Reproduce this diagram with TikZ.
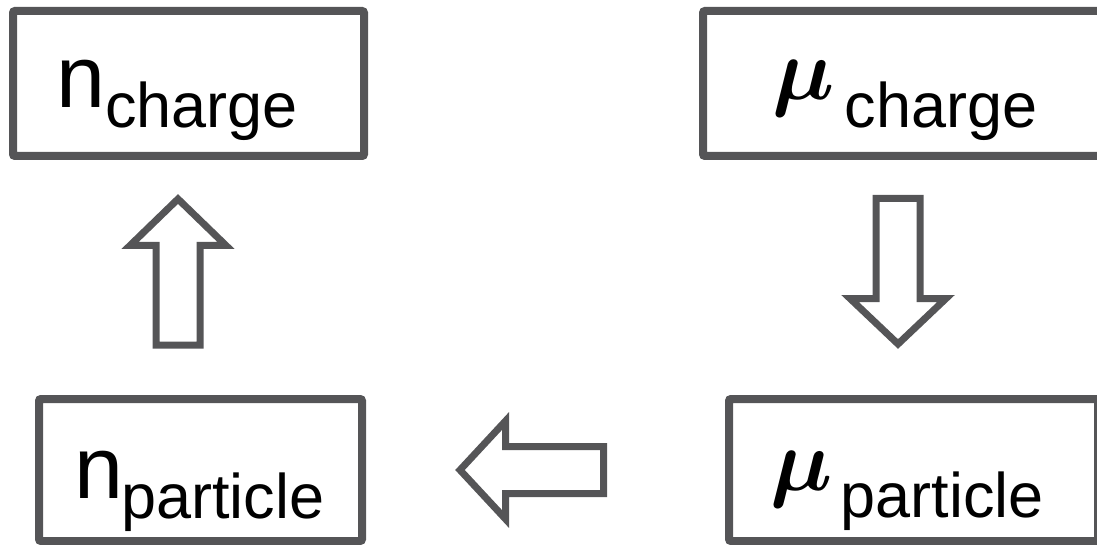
\documentclass[tikz,border=0pt]{standalone}
\usepackage{fix-cm}
\usepackage{amsmath}
\usepackage{fontspec}
\setmainfont{Liberation Sans}
\definecolor{edgegray}{RGB}{85,85,87}
\tikzset{
  box/.style={draw=edgegray, line width=8pt, rounded corners=2pt, inner sep=0pt},
  lbl/.style={anchor=base west, inner sep=0pt, text=black},
  flow/.style={draw=edgegray, line width=7pt, miter limit=10, fill=white}
}
\newcommand{\bigtxt}{\fontsize{88}{100}\selectfont}
\newcommand{\subtxt}[2]{\raisebox{-#1pt}{\fontsize{63}{70}\selectfont #2}}
\begin{document}
\begin{tikzpicture}[x=1pt,y=-1pt]
\useasboundingbox (0,0) rectangle (1097,545);
% boxes
\node[box, minimum width=351pt, minimum height=145pt] (nc) at (188.5,83.5) {};
\node[box, minimum width=412pt, minimum height=145pt] (mc) at (909,83.5) {};
\node[box, minimum width=323pt, minimum height=142pt] (np) at (200.5,470) {};
\node[box, minimum width=369pt, minimum height=142pt] (mp) at (913.5,470) {};
% labels
\node[lbl] (tnc) at (56,108) {\bigtxt n\subtxt{20}{charge}};
\node[lbl] (tmc) at (772,100) {\bigtxt $\boldsymbol{\mu}$\hspace{10pt}\subtxt{28}{charge}};
\node[lbl] (tnp) at (74,498) {\bigtxt n\hspace{-2pt}\subtxt{20}{particle}};
\node[lbl] (tmp) at (770,490) {\bigtxt $\boldsymbol{\mu}$\hspace{8pt}\subtxt{27}{particle}};
% block arrows
\draw[flow] (156,345) -- (156,245.5) -- (130,245.5) -- (178,199) -- (226,245.5) -- (200,245.5) -- (200,345) -- cycle;
\draw[flow] (876,198.5) -- (920,198.5) -- (920,298.5) -- (946,298.5) -- (898,344) -- (850,298.5) -- (876,298.5) -- cycle;
\draw[flow] (603.5,446.5) -- (603.5,493.5) -- (505.5,493.5) -- (505.5,519) -- (460,470) -- (505.5,421) -- (505.5,446.5) -- cycle;
\end{tikzpicture}
\end{document}
